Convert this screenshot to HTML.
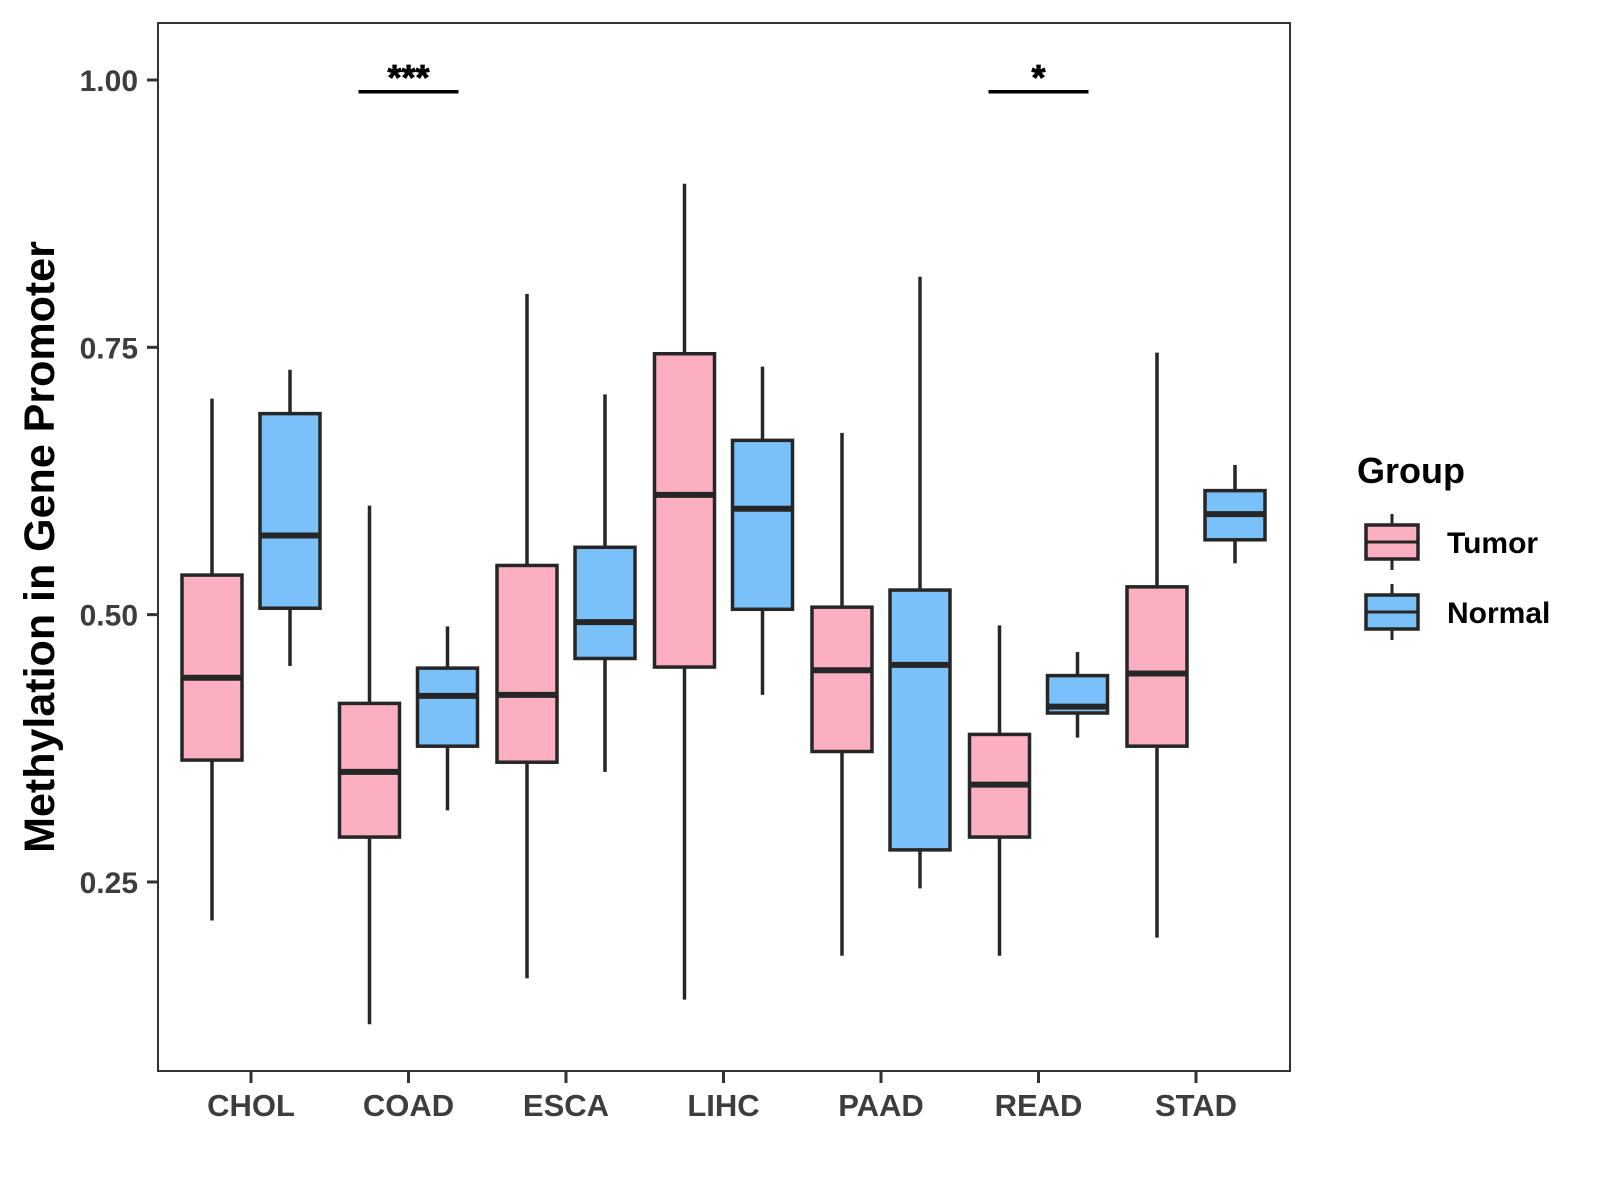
<!DOCTYPE html>
<html><head><meta charset="utf-8"><style>
html,body{margin:0;padding:0;background:#fff;}
svg{display:block;font-family:"Liberation Sans",Arial,sans-serif;}
</style></head><body>
<svg id="chart" width="1600" height="1200" viewBox="0 0 1600 1200">
<g id="plot"></g>
<rect x="158" y="23" width="1132" height="1048" fill="none" stroke="#333" stroke-width="2"/>
<text x="0" y="0" transform="translate(54,547) rotate(-90)" text-anchor="middle" font-size="43" font-weight="bold" fill="#000">Methylation in Gene Promoter</text>
<g>
<text x="1357" y="483" font-size="36" font-weight="bold" fill="#000">Group</text>
<g id="legend-items"></g>
</g>
</svg>
<script>
const categories = ["CHOL","COAD","ESCA","LIHC","PAAD","READ","STAD"];
const tumorMin = [0.214,0.117,0.160,0.140,0.181,0.181,0.198];
const tumorQ1 = [0.364,0.292,0.362,0.451,0.372,0.292,0.377];
const tumorMed = [0.441,0.353,0.425,0.612,0.448,0.341,0.445];
const tumorQ3 = [0.537,0.417,0.546,0.744,0.507,0.388,0.526];
const tumorMax = [0.702,0.602,0.800,0.903,0.670,0.490,0.745];
const normalMin = [0.452,0.317,0.353,0.425,0.244,0.385,0.548];
const normalQ1 = [0.506,0.377,0.459,0.505,0.280,0.408,0.570];
const normalMed = [0.574,0.424,0.493,0.599,0.453,0.414,0.594];
const normalQ3 = [0.688,0.450,0.563,0.663,0.523,0.443,0.616];
const normalMax = [0.729,0.489,0.706,0.732,0.816,0.465,0.640];
const yTicks = [0.25,0.50,0.75,1.00];
const yTickLabels = ["0.25","0.50","0.75","1.00"];
const sigCategories = ["COAD","READ"];
const sigLabels = ["***","*"];
const sigLevel = 0.989;

const NS="http://www.w3.org/2000/svg";
const plot=document.getElementById('plot');
const svg=document.getElementById('chart');
function y(v){return 80+(1-v)*1069.3;}
function x(i){return 251+i*157.5;}
function mk(tag,attrs,parent){const e=document.createElementNS(NS,tag);for(const k in attrs)e.setAttribute(k,attrs[k]);(parent||plot).appendChild(e);return e;}

yTicks.forEach((t,i)=>{
  const tk=mk('line',{x1:147,x2:158,y1:y(t),y2:y(t),stroke:'#333','stroke-width':3},svg);
  
  
  const tx=mk('text',{x:138,y:y(t)+11,'text-anchor':'end','font-size':30,'font-weight':'bold',fill:'#3d3d3d'},svg);
  tx.textContent=yTickLabels[i];
  
  
});
categories.forEach((c,i)=>{
  const tk=mk('line',{x1:x(i),x2:x(i),y1:1071,y2:1083,stroke:'#333','stroke-width':3},svg);
  
  
  const tx=mk('text',{x:x(i),y:1116,'text-anchor':'middle','font-size':31,'font-weight':'bold',fill:'#3d3d3d'},svg);
  tx.textContent=c;
  
  
});

function box(cx,mn,q1,md,q3,mx,fill,name){
  const g=mk('g',{});
  
  
  mk('line',{x1:cx,x2:cx,y1:y(mx),y2:y(q3),stroke:'#262626','stroke-width':3.5},g);
  mk('line',{x1:cx,x2:cx,y1:y(q1),y2:y(mn),stroke:'#262626','stroke-width':3.5},g);
  mk('rect',{x:cx-30,y:y(q3),width:60,height:y(q1)-y(q3),fill:fill,stroke:'#262626','stroke-width':3.5},g);
  mk('line',{x1:cx-30,x2:cx+30,y1:y(md),y2:y(md),stroke:'#262626','stroke-width':6},g);
}
categories.forEach((c,i)=>{
  box(x(i)-39,tumorMin[i],tumorQ1[i],tumorMed[i],tumorQ3[i],tumorMax[i],'#FCAFC0','box-tumor-'+c.toLowerCase());
  box(x(i)+39,normalMin[i],normalQ1[i],normalMed[i],normalQ3[i],normalMax[i],'#79C1F8','box-normal-'+c.toLowerCase());
});
sigCategories.forEach((c,k)=>{
  const i=categories.indexOf(c);
  const l=mk('line',{x1:x(i)-50,x2:x(i)+50,y1:y(sigLevel),y2:y(sigLevel),stroke:'#000','stroke-width':3.5});
  
  
  const t=mk('text',{x:x(i),y:y(sigLevel)-2,'text-anchor':'middle','font-size':36,'font-weight':'bold',fill:'#000',stroke:'#000','stroke-width':0.8});
  t.textContent=sigLabels[k];
  
  
});
const li=document.getElementById('legend-items');
[["Tumor","#FCAFC0",542],["Normal","#79C1F8",612]].forEach(([lab,col,cy])=>{
  const g=mk('g',{},li);
  
  
  mk('line',{x1:1392,x2:1392,y1:cy-28,y2:cy+28,stroke:'#262626','stroke-width':3},g);
  mk('rect',{x:1366,y:cy-17,width:52,height:34,fill:col,stroke:'#262626','stroke-width':3.5},g);
  mk('line',{x1:1366,x2:1418,y1:cy,y2:cy,stroke:'#262626','stroke-width':3},g);
  const t=mk('text',{x:1447,y:cy+11,'font-size':30,'font-weight':'bold',fill:'#000'},g);
  t.textContent=lab;
});
</script>
</body></html>
